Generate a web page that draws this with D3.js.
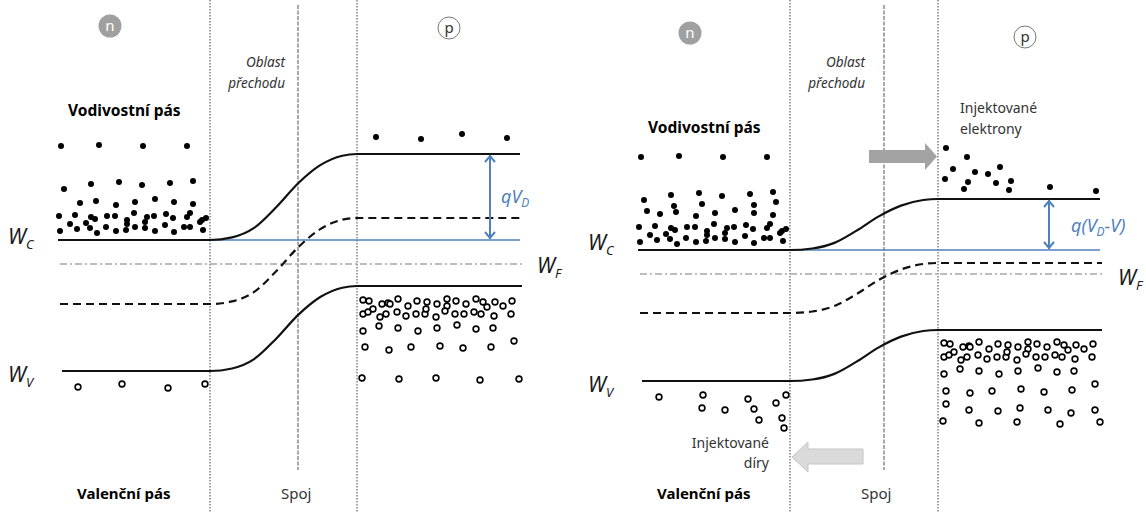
<!DOCTYPE html>
<html>
<head>
<meta charset="utf-8">
<script src="https://cdn.jsdelivr.net/npm/d3@7"></script>
<style>
  body { margin: 0; background: #fff; }
  svg { display: block; font-family: "Noto Sans", "Open Sans", sans-serif; }
</style>
</head>
<body>
<div id="chart"></div>
<script>
// energies in eV, positions in arbitrary units along the device (per panel)
const bandNames = ["Wc", "Wi", "Wv"];
const nSideEq = [2.00, 1.36, 0.69];
const pSideEq = [2.86, 2.22, 1.54];
const fermiEq = 1.76;
const nSideFw = [1.90, 1.27, 0.59];
const pSideFw = [2.41, 1.77, 1.10];
const fermiFw = 1.66;

// shape of the band bending across the transition region (0 = n edge, 1 = p edge)
const profileT = [0, 0.15, 0.3, 0.45, 0.6, 0.75, 0.9, 1];
const profileF = [0, 0.03, 0.14, 0.38, 0.66, 0.87, 0.98, 1];

// electrons (filled) and holes (open) : [position, energy]
const electronsNEq = [
  [61,2.94],[99,2.95],[143,2.94],[187,2.94],
  [64,2.51],[91,2.56],[119,2.58],[142,2.55],[170,2.57],[193,2.59],
  [80,2.37],[96,2.39],[116,2.35],[135,2.38],[155,2.41],[174,2.38],[193,2.36],
  [59,2.24],[75,2.25],[91,2.23],[95,2.21],[107,2.24],[115,2.24],[127,2.20],[134,2.27],[147,2.23],
  [154,2.24],[166,2.26],[173,2.22],[187,2.23],[190,2.27],[206,2.22],[202,2.20],
  [60,2.09],[70,2.16],[77,2.11],[86,2.17],[90,2.12],[97,2.07],[106,2.13],[116,2.09],[126,2.10],
  [127,2.16],[135,2.13],[145,2.18],[145,2.12],[155,2.09],[165,2.15],[174,2.08],[184,2.13],
  [190,2.13],[200,2.18],[203,2.10]
];
const electronsPEq = [[376,3.03],[421,3.01],[462,3.06],[507,3.02]];
const holesNEq = [[78,0.53],[122,0.56],[168,0.52],[205,0.56]];
const holesPEq = [
  [363,1.40],[369,1.39],[382,1.36],[388,1.37],[390,1.36],[398,1.41],[408,1.34],[417,1.39],[427,1.38],
  [437,1.36],[447,1.41],[447,1.34],[456,1.39],[466,1.36],[476,1.41],[483,1.38],[487,1.33],[495,1.38],
  [503,1.34],[512,1.39],
  [363,1.26],[368,1.28],[373,1.31],[380,1.23],[386,1.26],[397,1.28],[406,1.24],[416,1.26],[425,1.26],
  [426,1.31],[436,1.23],[445,1.29],[455,1.26],[464,1.26],[474,1.28],[481,1.26],[494,1.24],[511,1.26],
  [363,1.09],[379,1.14],[398,1.12],[418,1.09],[437,1.12],[457,1.15],[476,1.11],[493,1.12],
  [365,0.93],[389,0.90],[411,0.93],[440,0.94],[463,0.92],[491,0.93],[514,0.99],
  [362,0.62],[399,0.61],[436,0.62],[480,0.60],[519,0.61]
];

const electronsNFw = [
  [61,2.83],[99,2.84],[143,2.83],[187,2.83],
  [64,2.40],[91,2.45],[119,2.47],[142,2.44],[170,2.46],[193,2.48],
  [94,2.34],[122,2.36],[196,2.38],[67,2.29],[174,2.35],
  [80,2.26],[96,2.28],[116,2.24],[135,2.27],[155,2.30],[174,2.27],[193,2.25],
  [59,2.13],[75,2.14],[91,2.12],[95,2.10],[107,2.13],[115,2.13],[127,2.09],[134,2.16],[147,2.12],
  [154,2.13],[166,2.15],[173,2.11],[187,2.12],[190,2.16],[206,2.11],[202,2.09],
  [60,1.98],[70,2.05],[77,2.00],[86,2.06],[90,2.01],[97,1.96],[106,2.02],[116,1.98],[126,1.99],
  [127,2.05],[135,2.02],[145,2.07],[145,2.01],[155,1.98],[165,2.04],[174,1.97],[184,2.02],
  [190,2.02],[200,2.07],[203,1.99]
];
const electronsPFw = [
  [366,2.92],[387,2.83],[373,2.71],[365,2.61],[395,2.68],[408,2.66],[420,2.73],
  [388,2.58],[384,2.51],[416,2.57],[431,2.59],[429,2.50],[470,2.53],[516,2.49]
];
const holesNFw = [
  [79,0.43],[123,0.45],[122,0.32],[145,0.30],[168,0.41],[174,0.31],
  [179,0.20],[196,0.37],[206,0.45],[202,0.22],[204,0.12]
];
const holesPFw = [
  [364,0.97],[370,0.96],[383,0.93],[389,0.94],[390,0.93],[399,0.98],[409,0.91],[418,0.96],[428,0.95],
  [438,0.93],[448,0.98],[448,0.91],[457,0.96],[467,0.93],[477,0.98],[484,0.95],[488,0.90],[496,0.95],
  [504,0.91],[513,0.96],
  [364,0.83],[369,0.85],[374,0.88],[381,0.80],[387,0.83],[398,0.85],[407,0.81],[417,0.83],[426,0.83],
  [427,0.88],[437,0.80],[446,0.86],[456,0.83],[465,0.83],[475,0.85],[482,0.83],[495,0.81],[512,0.83],
  [364,0.66],[380,0.71],[399,0.69],[419,0.66],[438,0.69],[458,0.72],[477,0.68],[494,0.69],
  [366,0.49],[390,0.47],[412,0.49],[441,0.51],[464,0.48],[492,0.50],[515,0.56],
  [366,0.36],[389,0.30],[418,0.29],[440,0.32],[468,0.30],[491,0.27],[515,0.30],
  [363,0.19],[399,0.17],[437,0.18],[480,0.16],[520,0.18]
];

const W = 1146, H = 513;
const BLUE = "#4f81bd";

const svg = d3.select("#chart").append("svg")
  .attr("width", W).attr("height", H);

const y = d3.scaleLinear().domain([0, 4.4]).range([440, 0]);

const panels = [
  {ox: 0, edges: [210, 357], junction: 298, nSide: nSideEq, pSide: pSideEq, fermi: fermiEq,
   eN: electronsNEq, eP: electronsPEq, hN: holesNEq, hP: holesPEq, arrowX: 490,
   label: ["qV", "D", ""], labelPos: [501, 203], nc: [110, 26], pc: [449, 28],
   wc: 244, wv: 382, wf: [537, 273], vod: 116},
  {ox: 580, edges: [210, 358], junction: 304, nSide: nSideFw, pSide: pSideFw, fermi: fermiFw,
   eN: electronsNFw, eP: electronsPFw, hN: holesNFw, hP: holesPFw, arrowX: 469,
   label: ["q(V", "D", "-V)"], labelPos: [491, 232], nc: [110, 33], pc: [445, 37],
   wc: 250, wv: 392, wf: [538, 285], vod: 133}
];

function bandPoints(start, end, edges, e0, e1) {
  const pts = [[start, e0], [edges[0], e0]];
  profileT.forEach((t, i) => {
    pts.push([edges[0] + t * (edges[1] - edges[0]), e0 + profileF[i] * (e1 - e0)]);
  });
  pts.push([end, e1]);
  return pts;
}

function italicW(g, x, yy, sub) {
  const t = g.append("text").attr("x", x).attr("y", yy)
    .attr("font-size", 21).attr("font-style", "italic").attr("fill", "#1a1a1a");
  t.append("tspan").text("W");
  t.append("tspan").attr("font-size", 13).attr("dy", 5).text(sub);
}

panels.forEach(p => {
  const x = d3.scaleLinear().domain([0, 566]).range([p.ox, p.ox + 566]);
  const g = svg.append("g");

  // region boundaries
  g.selectAll("line.edge").data(p.edges).enter().append("line")
    .attr("x1", d => x(d)).attr("x2", d => x(d))
    .attr("y1", 0).attr("y2", H)
    .attr("stroke", "#8f8f8f").attr("stroke-width", 1.7)
    .attr("stroke-dasharray", "1.6,1.4");
  g.append("line")
    .attr("x1", x(p.junction)).attr("x2", x(p.junction))
    .attr("y1", 5).attr("y2", 470)
    .attr("stroke", "#9a9a9a").attr("stroke-width", 1.7)
    .attr("stroke-dasharray", "4,1.5");

  // Fermi level
  g.append("line")
    .attr("x1", x(60)).attr("x2", x(522))
    .attr("y1", y(p.fermi)).attr("y2", y(p.fermi))
    .attr("stroke", "#a6a6a6").attr("stroke-width", 1.6)
    .attr("stroke-dasharray", "7,3,2,3");

  // n-side conduction reference (blue)
  g.append("line")
    .attr("x1", x(188)).attr("x2", x(520))
    .attr("y1", y(p.nSide[0])).attr("y2", y(p.nSide[0]))
    .attr("stroke", BLUE).attr("stroke-width", 1.6);

  const line = d3.line().x(d => x(d[0])).y(d => y(d[1])).curve(d3.curveMonotoneX);
  const starts = [58, 60, 62];
  bandNames.forEach((b, i) => {
    g.append("path")
      .attr("d", line(bandPoints(starts[i], i === 0 ? 520 : 522, p.edges, p.nSide[i], p.pSide[i])))
      .attr("fill", "none").attr("stroke", "#111").attr("stroke-width", 2.2)
      .attr("stroke-dasharray", b === "Wi" ? "8,5" : null);
  });

  // barrier arrow
  const ax = x(p.arrowX), ya = y(p.pSide[0]) + 1, yb = y(p.nSide[0]) - 1;
  g.append("line").attr("x1", ax).attr("x2", ax).attr("y1", ya).attr("y2", yb)
    .attr("stroke", BLUE).attr("stroke-width", 2);
  g.append("path")
    .attr("d", `M${ax - 5},${ya + 7}L${ax},${ya + 1}L${ax + 5},${ya + 7}M${ax - 5},${yb - 7}L${ax},${yb - 1}L${ax + 5},${yb - 7}`)
    .attr("fill", "none").attr("stroke", BLUE).attr("stroke-width", 2);
  const lt = g.append("text").attr("x", p.ox + p.labelPos[0]).attr("y", p.labelPos[1])
    .attr("font-size", 18).attr("font-style", "italic").attr("fill", BLUE);
  lt.append("tspan").text(p.label[0]);
  lt.append("tspan").attr("font-size", 12).attr("dy", 4).text(p.label[1]);
  lt.append("tspan").attr("dy", -4).text(p.label[2]);

  // carriers
  g.selectAll("circle.e").data(p.eN.concat(p.eP)).enter().append("circle")
    .attr("cx", d => x(d[0])).attr("cy", d => y(d[1])).attr("r", 3).attr("fill", "#000");
  g.selectAll("circle.h").data(p.hN.concat(p.hP)).enter().append("circle")
    .attr("cx", d => x(d[0])).attr("cy", d => y(d[1])).attr("r", 2.9)
    .attr("fill", "#fff").attr("stroke", "#000").attr("stroke-width", 1.6);

  // labels
  italicW(g, p.ox + 8, p.wc, "C");
  italicW(g, p.ox + 8, p.wv, "V");
  italicW(g, p.ox + p.wf[0], p.wf[1], "F");

  g.append("text").attr("x", p.ox + 68).attr("y", p.vod)
    .attr("font-size", 15.5).attr("font-weight", "bold").attr("fill", "#000").text("Vodivostní pás");
  g.append("text").attr("x", p.ox + 77).attr("y", 499)
    .attr("font-size", 15).attr("font-weight", "bold").attr("fill", "#000").text("Valenční pás");
  g.append("text").attr("x", p.ox + 281).attr("y", 499)
    .attr("font-size", 15).attr("fill", "#333").text("Spoj");
  g.append("text").attr("x", p.ox + 285).attr("y", 67).attr("text-anchor", "end")
    .attr("font-size", 13.5).attr("font-style", "italic").attr("fill", "#333").text("Oblast");
  g.append("text").attr("x", p.ox + 285).attr("y", 88).attr("text-anchor", "end")
    .attr("font-size", 13.5).attr("font-style", "italic").attr("fill", "#333").text("přechodu");

  // n / p badges
  g.append("circle").attr("cx", p.ox + p.nc[0]).attr("cy", p.nc[1]).attr("r", 11.5).attr("fill", "#a0a0a0");
  g.append("text").attr("x", p.ox + p.nc[0]).attr("y", p.nc[1] + 5).attr("text-anchor", "middle")
    .attr("font-size", 15).attr("fill", "#fff").text("n");
  g.append("circle").attr("cx", p.ox + p.pc[0]).attr("cy", p.pc[1]).attr("r", 11)
    .attr("fill", "#fff").attr("stroke", "#777").attr("stroke-width", 1);
  g.append("text").attr("x", p.ox + p.pc[0]).attr("y", p.pc[1] + 5).attr("text-anchor", "middle")
    .attr("font-size", 15).attr("fill", "#333").text("p");
});

// injection arrows and notes (forward-bias panel)
const ox = 580;
svg.append("path")
  .attr("d", `M${ox + 289},${150}L${ox + 345},${150}L${ox + 345},${143}L${ox + 357},${156.5}L${ox + 345},${170}L${ox + 345},${163}L${ox + 289},${163}Z`)
  .attr("fill", "#a3a3a3");
svg.append("path")
  .attr("d", `M${ox + 212},${457}L${ox + 228},${442}L${ox + 228},${449}L${ox + 283},${449}L${ox + 283},${464}L${ox + 228},${464}L${ox + 228},${472}Z`)
  .attr("fill", "#dadada").attr("stroke", "#c4c4c4").attr("stroke-width", 1);

svg.append("text").attr("x", ox + 380).attr("y", 113).attr("font-size", 14).attr("fill", "#333").text("Injektované");
svg.append("text").attr("x", ox + 380).attr("y", 134).attr("font-size", 14).attr("fill", "#333").text("elektrony");
svg.append("text").attr("x", ox + 189).attr("y", 448).attr("text-anchor", "end").attr("font-size", 14).attr("fill", "#333").text("Injektované");
svg.append("text").attr("x", ox + 189).attr("y", 468).attr("text-anchor", "end").attr("font-size", 14).attr("fill", "#333").text("díry");
</script>
</body>
</html>
